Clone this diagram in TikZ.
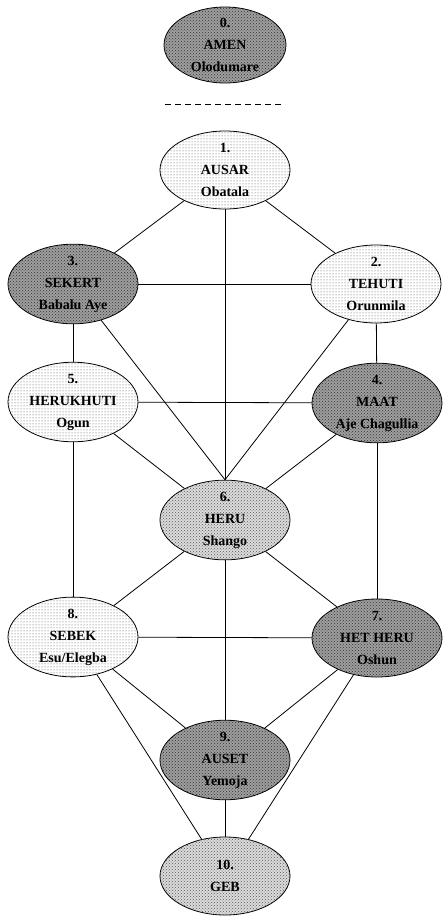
\documentclass[tikz,border=0pt]{standalone}
\usepackage{fontspec}
\setmainfont{Liberation Serif}
\usetikzlibrary{shapes.geometric, patterns}
\tikzset{
  sph/.style={ellipse, draw=black, line width=0.8pt, minimum width=130pt, minimum height=78pt,
              inner sep=0pt, align=center, font=\bfseries\fontsize{14}{22}\selectfont},
  dk/.style={sph, fill=black!38, postaction={pattern=crosshatch dots, pattern color=black!80}},
  lt/.style={sph, fill=white, postaction={pattern=dots, pattern color=black!70}},
  md/.style={sph, fill=black!14, postaction={pattern=crosshatch dots, pattern color=black!65}},
  link/.style={draw=black, line width=0.8pt},
  sep/.style={draw=black, line width=0.8pt, dash pattern=on 6pt off 4pt},
}
\begin{document}
\begin{tikzpicture}[x=1pt, y=-1pt]
\useasboundingbox (0,0) rectangle (443,916);
% the hidden one above the line
\node[dk, minimum width=122pt, minimum height=76pt] (amen) at (225,45) {0.\\AMEN\\Olodumare};
\coordinate (sepl) at (165,104);
\coordinate (sepr) at (283,104);
\draw[sep] (sepl) -- (sepr);
% the spheres of the tree
\node[lt] (ausar) at (225,170) {1.\\AUSAR\\Obatala};
\node[lt] (tehuti) at (376,284) {2.\\TEHUTI\\Orunmila};
\node[dk] (sekert) at (73,284) {3.\\SEKERT\\Babalu Aye};
\node[dk] (maat) at (377,403) {4.\\MAAT\\Aje Chagullia};
\node[lt] (herukhuti) at (73,402) {5.\\HERUKHUTI\\Ogun};
\node[md] (heru) at (225,520) {6.\\HERU\\Shango};
\node[dk] (hetheru) at (377,638) {7.\\HET HERU\\Oshun};
\node[lt] (sebek) at (73,637) {8.\\SEBEK\\Esu/Elegba};
\node[dk] (auset) at (225,760) {9.\\AUSET\\Yemoja};
\node[md] (geb) at (225,876) {10.\\GEB};
% the paths between them
\draw[link] (ausar) -- (tehuti);
\draw[link] (ausar) -- (sekert);
\draw[link] (ausar) -- (heru.north);
\draw[link] (sekert) -- (tehuti);
\draw[link] (sekert) -- (herukhuti);
\draw[link] (sekert) -- (heru.north);
\draw[link] (tehuti) -- (maat);
\draw[link] (tehuti) -- (heru.north);
\draw[link] (herukhuti) -- (maat);
\draw[link] (herukhuti) -- (heru);
\draw[link] (herukhuti) -- (sebek);
\draw[link] (maat) -- (heru);
\draw[link] (maat) -- (hetheru);
\draw[link] (heru) -- (sebek);
\draw[link] (heru) -- (hetheru);
\draw[link] (heru) -- (auset);
\draw[link] (sebek) -- (hetheru);
\draw[link] (sebek) -- (auset);
\draw[link] (sebek) -- (geb);
\draw[link] (hetheru) -- (auset);
\draw[link] (hetheru) -- (geb);
\draw[link] (auset) -- (geb);
\end{tikzpicture}
\end{document}
